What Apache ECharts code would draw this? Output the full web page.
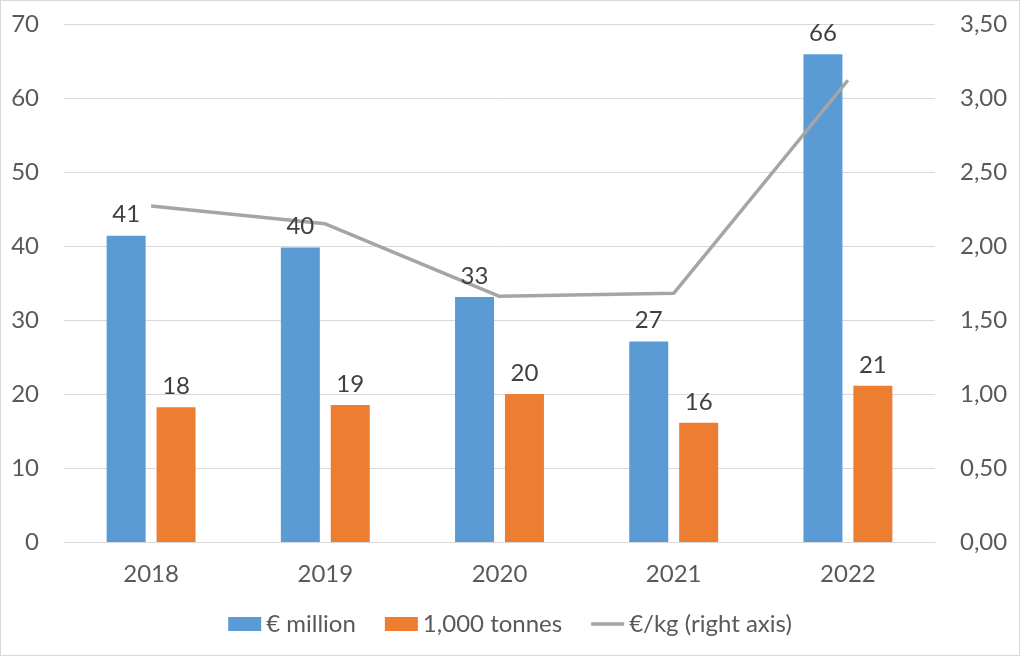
<!DOCTYPE html>
<html><head><meta charset="utf-8">
<script src="https://cdn.jsdelivr.net/npm/echarts@6/dist/echarts.min.js"></script>
<style>html,body{margin:0;padding:0;background:#fff}#c{width:1018px;height:654px;border:1px solid #d9d9d9}</style>
</head><body><div id="c"></div>
<script>
const categories = ['2018','2019','2020','2021','2022'];
const eurMillion = [41.4, 39.8, 33.1, 27.1, 65.9];
const kTonnes = [18.2, 18.5, 20.0, 16.1, 21.1];
const eurPerKg = [2.27, 2.15, 1.66, 1.68, 3.12];
const leftTicks = {min:0, max:70, interval:10};
const rightTicks = {min:0, max:3.5, interval:0.5};

const FONT = 'Lato';
const FS = 24;
const labelCfg = {show:true, position:'top', distance:9, color:'#404040', fontSize:FS, fontFamily:FONT,
  formatter:p=>Math.round(p.value)};
const chart = echarts.init(document.getElementById('c'));
chart.setOption({
  animation:false,
  textStyle:{fontFamily:FONT},
  grid:{left:63, right:84, top:23, bottom:113},
  legend:{top:606, left:'center', itemWidth:33, itemHeight:14, itemGap:29,
    textStyle:{fontFamily:FONT, fontSize:FS, color:'#595959'},
    data:[{name:'€ million', icon:'rect'},{name:'1,000 tonnes', icon:'rect'},
      {name:'€/kg (right axis)', icon:'path://M0,0 L33,0 L33,3.5 L0,3.5 Z', itemStyle:{color:'#A5A5A5'}}]},
  xAxis:[
    {type:'category', data:categories,
     axisLine:{lineStyle:{color:'#d9d9d9', width:1}}, axisTick:{show:false},
     axisLabel:{color:'#595959', fontSize:FS, fontFamily:FONT, margin:20}},
    {type:'category', data:categories, show:false}
  ],
  yAxis:[
    {type:'value', min:leftTicks.min, max:leftTicks.max, interval:leftTicks.interval,
     axisLabel:{color:'#595959', fontSize:FS, fontFamily:FONT, margin:25},
     splitLine:{lineStyle:{color:'#d9d9d9', width:1}}, axisLine:{show:false}, axisTick:{show:false}},
    {type:'value', min:rightTicks.min, max:rightTicks.max, interval:rightTicks.interval, position:'right',
     axisLabel:{color:'#595959', fontSize:FS, fontFamily:FONT, margin:25,
       formatter:v=>v.toFixed(2).replace('.',',')},
     splitLine:{show:false}, axisLine:{show:false}, axisTick:{show:false}}
  ],
  series:[
    {name:'€ million', type:'bar', data:eurMillion, barWidth:39, barGap:'28%', z:2,
     itemStyle:{color:'#5B9BD5'}},
    {name:'1,000 tonnes', type:'bar', data:kTonnes, barWidth:39, z:2,
     itemStyle:{color:'#ED7D31'}},
    {name:'€/kg (right axis)', type:'line', yAxisIndex:1, data:eurPerKg, z:3,
     symbol:'none', lineStyle:{color:'#A5A5A5', width:3.5}, itemStyle:{color:'#A5A5A5'}},
    {name:'€ million', type:'bar', xAxisIndex:1, data:eurMillion, barWidth:39, barGap:'28%', z:5,
     itemStyle:{color:'rgba(0,0,0,0)'}, label:labelCfg, silent:true},
    {name:'1,000 tonnes', type:'bar', xAxisIndex:1, data:kTonnes, barWidth:39, z:5,
     itemStyle:{color:'rgba(0,0,0,0)'}, label:labelCfg, silent:true}
  ]
});
</script></body></html>
